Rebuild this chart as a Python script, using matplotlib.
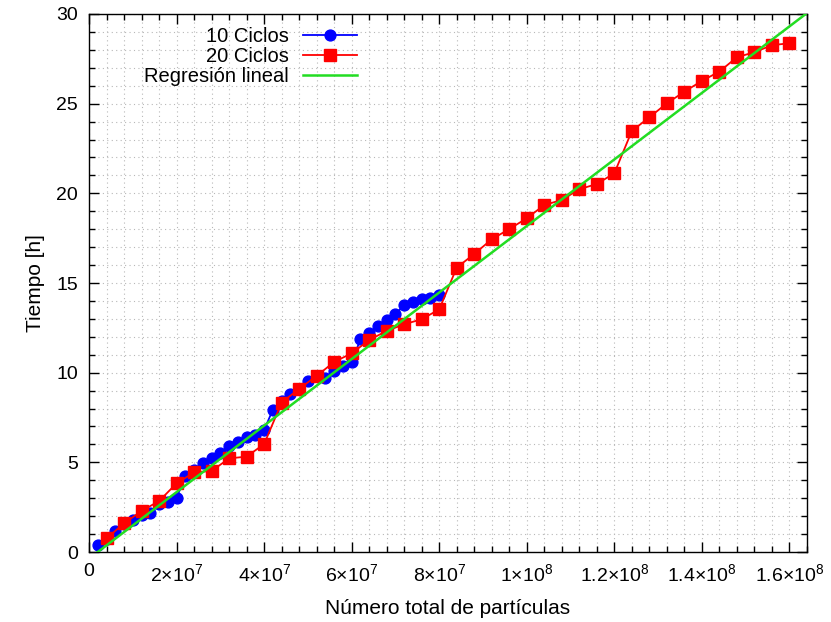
import matplotlib
matplotlib.use("Agg")
import matplotlib.pyplot as plt
from matplotlib.ticker import MultipleLocator, FuncFormatter

# Data
particles_10 = [2e6 * k for k in range(1, 41)]
time_10 = [0.40, 0.75, 1.20, 1.55, 1.78, 2.05, 2.20, 2.65, 2.77, 3.00,
           4.25, 4.55, 4.95, 5.22, 5.50, 5.90, 6.15, 6.43, 6.52, 6.80,
           7.94, 8.40, 8.80, 9.10, 9.55, 9.80, 9.72, 10.10, 10.40, 10.58,
           11.86, 12.23, 12.60, 12.94, 13.26, 13.78, 13.96, 14.10, 14.15, 14.35]

particles_20 = [4e6 * k for k in range(1, 41)]
time_20 = [0.76, 1.60, 2.29, 2.84, 3.83, 4.44, 4.52, 5.22, 5.32, 6.02,
           8.33, 9.10, 9.82, 10.60, 11.08, 11.82, 12.33, 12.70, 12.98, 13.53,
           15.86, 16.62, 17.44, 18.01, 18.61, 19.35, 19.63, 20.23, 20.52, 21.12,
           23.48, 24.24, 25.02, 25.67, 26.27, 26.79, 27.59, 27.87, 28.26, 28.37]

# Linear regression line (slope in h per particle, intercept in h)
fit_slope = 1.855e-7
fit_intercept = -0.37

x_max = 1.64e8
y_max = 30

legend_labels = ["10 Ciclos", "20 Ciclos", "Regresión lineal"]

plt.rcParams['font.family'] = ['Liberation Sans', 'DejaVu Sans']
plt.rcParams['mathtext.fontset'] = 'custom'
plt.rcParams['mathtext.rm'] = 'Liberation Sans'
plt.rcParams['mathtext.it'] = 'Liberation Sans:italic'


def sci_label(value, pos):
    """Format tick values like gnuplot: 2x10^7, 1.2x10^8."""
    if value == 0:
        return "0"
    exp = len(str(int(abs(value)))) - 1
    mant = value / 10 ** exp
    mant_str = f"{mant:g}"
    return mant_str + r"$\times$10$^{%d}$" % exp


def main():
    fig = plt.figure(figsize=(8.31, 6.22), dpi=100)
    ax = fig.add_axes([0.1071, 0.1125, 0.8640, 0.865])

    ax.plot(particles_10, time_10, color='#0000ff', marker='o', markersize=7.8,
            linewidth=1.3, label=legend_labels[0], zorder=3)
    ax.plot(particles_20, time_20, color='#ff0000', marker='s', markersize=8,
            linewidth=1.3, label=legend_labels[1], zorder=4)
    fit_x = [0, x_max]
    fit_y = [fit_intercept + fit_slope * x for x in fit_x]
    ax.plot(fit_x, fit_y, color='#22dd22', linewidth=1.8,
            label=legend_labels[2], zorder=5)

    ax.set_xlim(0, x_max)
    ax.set_ylim(0, y_max)

    ax.xaxis.set_major_locator(MultipleLocator(2e7))
    ax.xaxis.set_minor_locator(MultipleLocator(4e6))
    ax.yaxis.set_major_locator(MultipleLocator(5))
    ax.yaxis.set_minor_locator(MultipleLocator(1))
    ax.xaxis.set_major_formatter(FuncFormatter(sci_label))

    ax.tick_params(which='both', direction='in', top=True, right=True,
                   labelsize=14, width=1)
    ax.tick_params(which='major', length=7, pad=8)
    ax.tick_params(which='minor', length=4)

    ax.grid(which='both', color='#b8b8b8', linestyle=(0, (1, 3)), linewidth=0.8)
    ax.set_axisbelow(True)
    for spine in ax.spines.values():
        spine.set_linewidth(1.0)

    ax.set_xlabel("Número total de partículas", fontsize=15, labelpad=10)
    ax.set_ylabel("Tiempo [h]", fontsize=15, labelpad=8)

    leg = ax.legend(loc='upper right', bbox_to_anchor=(0.392, 1.0),
                    markerfirst=False, frameon=False, fontsize=14.5,
                    handlelength=2.7, handletextpad=0.7, labelspacing=0.05,
                    borderaxespad=0.25)
    leg.set_zorder(6)

    fig.savefig("out.png", dpi=100)
    plt.close(fig)


if __name__ == "__main__":
    main()
